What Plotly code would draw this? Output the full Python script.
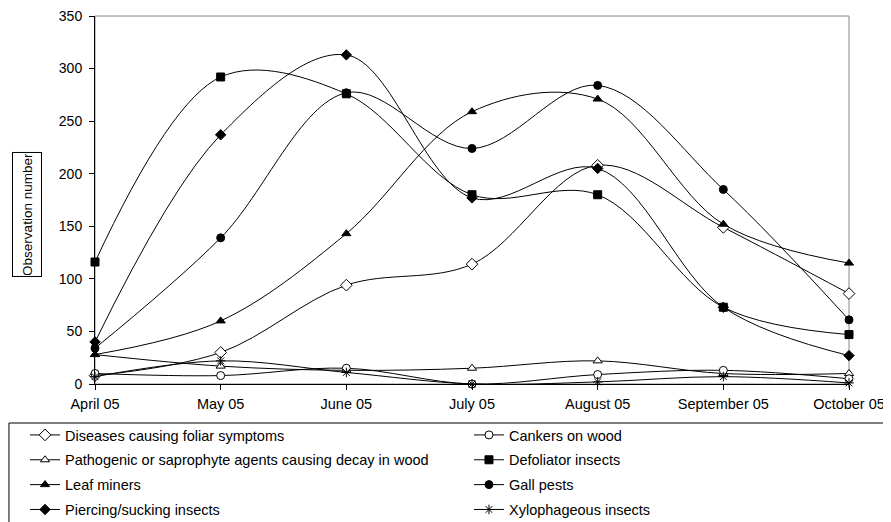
import plotly.graph_objects as go

months = ["April 05", "May 05", "June 05", "July 05", "August 05", "September 05", "October 05"]

diseases = [8, 30, 94, 114, 208, 149, 86]
cankers = [10, 8, 15, 0, 9, 13, 5]
pathogenic = [28, 17, 13, 15, 22, 10, 10]
defoliator = [116, 292, 276, 180, 180, 73, 47]
leaf_miners = [28, 60, 143, 259, 271, 152, 115]
gall_pests = [34, 139, 277, 224, 284, 185, 61]
piercing = [40, 237, 313, 177, 205, 73, 27]
xylophagous = [7, 22, 11, 0, 2, 7, 1]

# (name, values, symbol, size, fill, legend column)
series = [
    ("Diseases causing foliar symptoms", diseases, "diamond", 9, "white", "legend"),
    ("Pathogenic or saprophyte agents causing decay in wood", pathogenic, "triangle-up", 8, "white", "legend"),
    ("Leaf miners", leaf_miners, "triangle-up", 8, "black", "legend"),
    ("Piercing/sucking insects", piercing, "diamond", 8, "black", "legend"),
    ("Cankers on wood", cankers, "circle", 8, "white", "legend2"),
    ("Defoliator insects", defoliator, "square", 8, "black", "legend2"),
    ("Gall pests", gall_pests, "circle", 8, "black", "legend2"),
    ("Xylophageous insects", xylophagous, "asterisk-open", 8, "black", "legend2"),
]

x = list(range(len(months)))
fig = go.Figure()
for i, (name, vals, sym, sz, fill, leg) in enumerate(series):
    fig.add_trace(go.Scatter(
        x=x, y=vals, name=name, mode="lines+markers",
        line=dict(color="black", width=1, shape="spline", smoothing=1),
        marker=dict(symbol=sym, size=sz, color=fill,
                    line=dict(color="black", width=1)),
        cliponaxis=False, legend=leg, legendgroup=f"g{i}",
    ))

FONT = "Liberation Sans, Arial, sans-serif"
leg_common = dict(
    orientation="v", xanchor="left", yanchor="top", traceorder="grouped",
    tracegroupgap=3, bgcolor="rgba(0,0,0,0)", borderwidth=0,
    font=dict(family=FONT, size=14.5, color="black"),
)

fig.update_layout(
    width=883, height=514,
    margin=dict(l=87, r=42, t=8, b=138, autoexpand=False),
    paper_bgcolor="white", plot_bgcolor="white",
    font=dict(family=FONT, size=14, color="black"),
    showlegend=True,
    legend=dict(x=-0.0928, y=-0.0951, **leg_common),
    legend2=dict(x=0.496, y=-0.0951, **leg_common),
    xaxis=dict(
        range=[0, 6], tickvals=x, ticktext=months, showgrid=False, zeroline=False,
        showline=True, linecolor="black", linewidth=1,
        ticks="outside", ticklen=5, tickcolor="black",
        tickfont=dict(size=14.5), ticklabelstandoff=2, ticklabeloverflow="allow",
    ),
    yaxis=dict(
        range=[0, 350], dtick=50, showgrid=False, zeroline=False,
        showline=True, linecolor="black", linewidth=1,
        ticks="outside", ticklen=5, tickcolor="black",
        tickfont=dict(size=14), ticklabelstandoff=4, ticklabeloverflow="allow",
    ),
    shapes=[
        dict(type="rect", xref="paper", yref="paper", x0=0, x1=1, y0=0, y1=1,
             line=dict(color="#888888", width=1), layer="below"),
        dict(type="rect", xref="paper", yref="paper", x0=-0.1141, x1=1.07, y0=-0.106, y1=-0.6,
             line=dict(color="black", width=1), layer="below"),
    ],
    annotations=[dict(
        text="Observation number", textangle=-90, xref="paper", yref="paper",
        x=-0.0902, y=0.462, xanchor="center", yanchor="middle", showarrow=False,
        font=dict(size=13.5), bordercolor="black", borderwidth=1, borderpad=1,
        width=121, height=26,
    )],
)

fig.write_html("out.html")
